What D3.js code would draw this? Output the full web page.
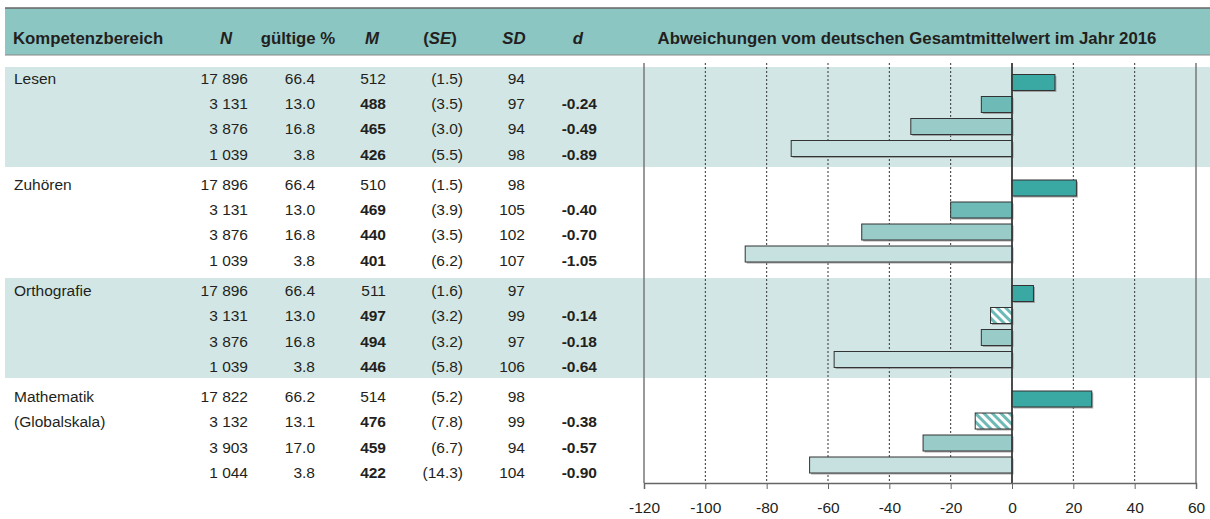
<!DOCTYPE html>
<html>
<head>
<meta charset="utf-8">
<script src="https://cdn.jsdelivr.net/npm/d3@7"></script>
<style>
  body { margin: 0; background: #fff; }
  svg text { font-family: "Liberation Sans", Arial, sans-serif; fill: #231f20; }
</style>
</head>
<body>
<script>
var w = 1210;
var h = 519;

// Daten
var bereiche = [["Lesen"], ["Zuhören"], ["Orthografie"], ["Mathematik", "(Globalskala)"]];
var nWerte = [[17896, 3131, 3876, 1039], [17896, 3131, 3876, 1039], [17896, 3131, 3876, 1039], [17822, 3132, 3903, 1044]];
var gueltig = [[66.4, 13.0, 16.8, 3.8], [66.4, 13.0, 16.8, 3.8], [66.4, 13.0, 16.8, 3.8], [66.2, 13.1, 17.0, 3.8]];
var mWerte = [[512, 488, 465, 426], [510, 469, 440, 401], [511, 497, 494, 446], [514, 476, 459, 422]];
var seWerte = [[1.5, 3.5, 3.0, 5.5], [1.5, 3.9, 3.5, 6.2], [1.6, 3.2, 3.2, 5.8], [5.2, 7.8, 6.7, 14.3]];
var sdWerte = [[94, 97, 94, 98], [98, 105, 102, 107], [97, 99, 97, 106], [98, 99, 94, 104]];
var dWerte = [[null, -0.24, -0.49, -0.89], [null, -0.40, -0.70, -1.05], [null, -0.14, -0.18, -0.64], [null, -0.38, -0.57, -0.90]];
// Abweichungen vom Gesamtmittelwert (Balken)
var abweichung = [[14, -10, -33, -72], [21, -20, -49, -87], [7, -7, -10, -58], [26, -12, -29, -66]];
// nicht signifikant -> schraffiert
var nichtSig = [[false, false, false, false], [false, false, false, false], [false, true, false, false], [false, true, false, false]];
var ticks = [-120, -100, -80, -60, -40, -20, 0, 20, 40, 60];

var farben = ["#3aa9a4", "#6dbab6", "#99ccc9", "#c6e1e0"];

var loc = d3.formatLocale({ decimal: ".", thousands: " ", grouping: [3], minus: "-" });
var fmtN = loc.format(",d");
var fmt1 = loc.format(".1f");
var fmt2 = loc.format(".2f");

var svg = d3.select("body").append("svg")
    .attr("width", w)
    .attr("height", h);

var defs = svg.append("defs");
var pat = defs.append("pattern")
    .attr("id", "hatch")
    .attr("patternUnits", "userSpaceOnUse")
    .attr("width", 6)
    .attr("height", 6)
    .attr("patternTransform", "rotate(-45)");
pat.append("rect").attr("width", 6).attr("height", 6).attr("fill", "#fff");
pat.append("rect").attr("width", 3).attr("height", 6).attr("fill", "#6dbab6");

var x = d3.scaleLinear().domain([-120, 60]).range([644, 1196]);
var gruppeY = d3.scaleLinear().domain([0, 3]).range([67, 383.5]);
var balkenY = d3.scaleLinear().domain([0, 3]).range([7.5, 73.5]);
var textGruppeY = d3.scaleLinear().domain([0, 3]).range([83.5, 402]);
var textY = d3.scaleLinear().domain([0, 3]).range([0, 76]);
var achseY = 483;

// Kopfzeile
svg.append("rect").attr("x", 5).attr("y", 8).attr("width", w - 5).attr("height", 47).attr("fill", "#8bc6c3");
svg.append("line").attr("x1", 5).attr("x2", w).attr("y1", 8).attr("y2", 8).attr("stroke", "#666").attr("stroke-width", 1.5);
svg.append("line").attr("x1", 5).attr("x2", w).attr("y1", 55).attr("y2", 55).attr("stroke", "#888").attr("stroke-width", 1);

var kopf = svg.append("g").attr("font-weight", "bold").attr("font-size", "16.8px");
kopf.append("text").attr("x", 13).attr("y", 44).text("Kompetenzbereich");
kopf.append("text").attr("x", 226).attr("y", 44).attr("text-anchor", "middle").attr("font-style", "italic").text("N");
kopf.append("text").attr("x", 298).attr("y", 44).attr("text-anchor", "middle").text("gültige %");
kopf.append("text").attr("x", 372).attr("y", 44).attr("text-anchor", "middle").attr("font-style", "italic").text("M");
var se = kopf.append("text").attr("x", 440).attr("y", 44).attr("text-anchor", "middle");
se.append("tspan").text("(");
se.append("tspan").attr("font-style", "italic").text("SE");
se.append("tspan").text(")");
kopf.append("text").attr("x", 514).attr("y", 44).attr("text-anchor", "middle").attr("font-style", "italic").text("SD");
kopf.append("text").attr("x", 578).attr("y", 44).attr("text-anchor", "middle").attr("font-style", "italic").text("d");
kopf.append("text").attr("x", 907).attr("y", 44).attr("text-anchor", "middle").text("Abweichungen vom deutschen Gesamtmittelwert im Jahr 2016");

// Hintergrundbänder
svg.selectAll("rect.band")
    .data([0, 2])
    .enter()
    .append("rect")
    .attr("class", "band")
    .attr("x", 5)
    .attr("y", function(g) { return gruppeY(g); })
    .attr("width", w - 5)
    .attr("height", 100)
    .attr("fill", "#d2e7e5");

// Gitterlinien
svg.selectAll("line.grid")
    .data(ticks)
    .enter()
    .append("line")
    .attr("class", "grid")
    .attr("x1", function(d) { return x(d); })
    .attr("x2", function(d) { return x(d); })
    .attr("y1", 63)
    .attr("y2", achseY)
    .attr("stroke", function(d) { return (d === -120 || d === 60) ? "#777" : "#333"; })
    .attr("stroke-width", function(d) { return (d === -120 || d === 60) ? 1.5 : 1; })
    .attr("stroke-dasharray", function(d) { return (d === -120 || d === 60 || d === 0) ? null : "2,2"; });

// Balken
var zeilen = [];
abweichung.forEach(function(reihe, g) {
    reihe.forEach(function(v, r) {
        zeilen.push({ g: g, r: r, v: v, hatch: nichtSig[g][r] });
    });
});

var bh = 16;
svg.selectAll("rect.schatten")
    .data(zeilen)
    .enter()
    .append("rect")
    .attr("class", "schatten")
    .attr("x", function(d) { return Math.min(x(0), x(d.v)) + 1.5; })
    .attr("y", function(d) { return gruppeY(d.g) + balkenY(d.r) + 1.5; })
    .attr("width", function(d) { return Math.abs(x(d.v) - x(0)); })
    .attr("height", bh)
    .attr("fill", "#888")
    .attr("opacity", 0.7);

svg.selectAll("rect.balken")
    .data(zeilen)
    .enter()
    .append("rect")
    .attr("class", "balken")
    .attr("x", function(d) { return Math.min(x(0), x(d.v)); })
    .attr("y", function(d) { return gruppeY(d.g) + balkenY(d.r); })
    .attr("width", function(d) { return Math.abs(x(d.v) - x(0)); })
    .attr("height", bh)
    .attr("fill", function(d) { return d.hatch ? "url(#hatch)" : farben[d.r]; })
    .attr("stroke", "#333")
    .attr("stroke-width", 1);

// Nulllinie
svg.append("line")
    .attr("x1", x(0)).attr("x2", x(0))
    .attr("y1", 63).attr("y2", achseY)
    .attr("stroke", "#333").attr("stroke-width", 1.5);

// Achse
var achse = svg.append("g")
    .attr("transform", "translate(0," + achseY + ")")
    .call(d3.axisBottom(x).tickValues(ticks).tickSize(6).tickSizeOuter(6).tickFormat(function(d) { return String(d); }));
achse.select(".domain").attr("stroke", "#666").attr("stroke-width", 1.5);
achse.selectAll(".tick line").attr("stroke", "#666");
achse.selectAll(".tick text")
    .attr("y", 19)
    .attr("font-size", "15.5px")
    .attr("font-family", "'Liberation Sans', Arial, sans-serif")
    .attr("fill", "#231f20");

// Tabelle
var tab = svg.append("g").attr("font-size", "15.5px");
bereiche.forEach(function(namen, g) {
    namen.forEach(function(n, i) {
        tab.append("text")
            .attr("x", 14)
            .attr("y", textGruppeY(g) + textY(i))
            .text(n);
    });
    for (var r = 0; r < 4; r++) {
        var yy = textGruppeY(g) + textY(r);
        tab.append("text").attr("x", 248).attr("y", yy).attr("text-anchor", "end").text(fmtN(nWerte[g][r]));
        tab.append("text").attr("x", 315).attr("y", yy).attr("text-anchor", "end").text(fmt1(gueltig[g][r]));
        tab.append("text").attr("x", 386).attr("y", yy).attr("text-anchor", "end")
            .attr("font-weight", r > 0 ? "bold" : null).text(mWerte[g][r]);
        tab.append("text").attr("x", 463).attr("y", yy).attr("text-anchor", "end").text("(" + fmt1(seWerte[g][r]) + ")");
        tab.append("text").attr("x", 525).attr("y", yy).attr("text-anchor", "end").text(sdWerte[g][r]);
        if (dWerte[g][r] !== null) {
            tab.append("text").attr("x", 597).attr("y", yy).attr("text-anchor", "end")
                .attr("font-weight", "bold").text(fmt2(dWerte[g][r]));
        }
    }
});
</script>
</body>
</html>
